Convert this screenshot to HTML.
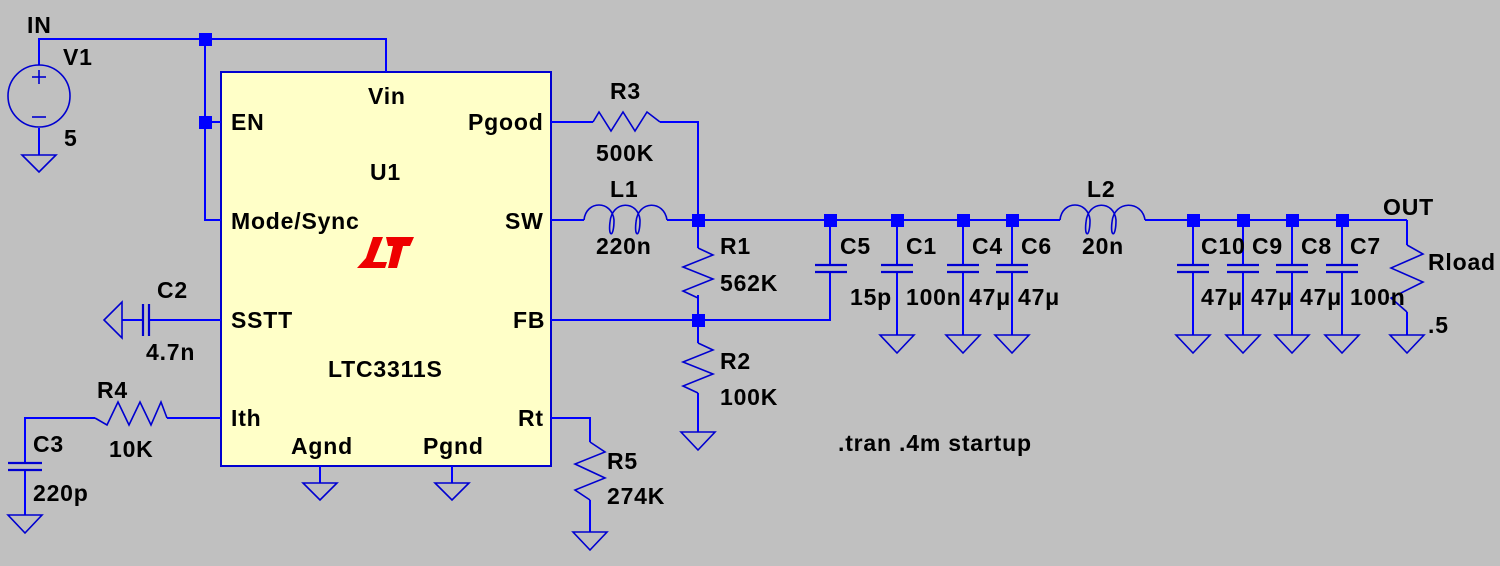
<!DOCTYPE html>
<html><head><meta charset="utf-8"><style>
html,body{margin:0;padding:0;background:#c0c0c0;}
svg{display:block}
text{font-family:"Liberation Sans",sans-serif;font-weight:bold;font-size:23px;letter-spacing:0.8px;fill:#000}
</style></head><body>
<svg width="1500" height="566" viewBox="0 0 1500 566" xmlns="http://www.w3.org/2000/svg">
<rect width="1500" height="566" fill="#c0c0c0"/>
<rect x="221" y="72" width="330" height="394" fill="#ffffc8" stroke="#0000d0" stroke-width="2"/>
<g fill="none" stroke="#0000ff" stroke-width="2">
<polyline points="39,65 39,39 386,39 386,72"/>
<polyline points="205,39 205,220 221,220"/>
<line x1="205" y1="122" x2="221" y2="122"/>
<line x1="39" y1="128" x2="39" y2="155"/>
<polyline points="551,122 593,122"/>
<polyline points="660,122 698,122 698,248"/>
<line x1="551" y1="220" x2="584" y2="220"/>
<line x1="667" y1="220" x2="1060" y2="220"/>
<line x1="1145" y1="220" x2="1407" y2="220"/>
<polyline points="1407,220 1407,245"/>
<line x1="1407" y1="312" x2="1407" y2="335"/>
<line x1="698" y1="295" x2="698" y2="343"/>
<line x1="698" y1="393" x2="698" y2="432"/>
<polyline points="551,320 830,320 830,272"/>
<line x1="830" y1="220" x2="830" y2="265"/>
<line x1="897" y1="220" x2="897" y2="265"/><line x1="897" y1="271" x2="897" y2="335"/>
<line x1="963" y1="220" x2="963" y2="265"/><line x1="963" y1="271" x2="963" y2="335"/>
<line x1="1012" y1="220" x2="1012" y2="265"/><line x1="1012" y1="271" x2="1012" y2="335"/>
<line x1="1193" y1="220" x2="1193" y2="265"/><line x1="1193" y1="271" x2="1193" y2="335"/>
<line x1="1243" y1="220" x2="1243" y2="265"/><line x1="1243" y1="271" x2="1243" y2="335"/>
<line x1="1292" y1="220" x2="1292" y2="265"/><line x1="1292" y1="271" x2="1292" y2="335"/>
<line x1="1342" y1="220" x2="1342" y2="265"/><line x1="1342" y1="271" x2="1342" y2="335"/>
<line x1="221" y1="320" x2="149" y2="320"/>
<line x1="143" y1="320" x2="122" y2="320"/>
<line x1="221" y1="418" x2="167" y2="418"/>
<polyline points="95,418 25,418 25,463"/>
<line x1="25" y1="470" x2="25" y2="515"/>
<polyline points="551,418 590,418 590,442"/>
<line x1="590" y1="500" x2="590" y2="532"/>
<line x1="320" y1="466" x2="320" y2="483"/>
<line x1="452" y1="466" x2="452" y2="483"/>
</g>
<g fill="none" stroke="#0000d0" stroke-width="1.6">
<circle cx="39" cy="96" r="31"/>
<line x1="32" y1="77" x2="46" y2="77"/><line x1="39" y1="70" x2="39" y2="84"/>
<line x1="32" y1="117" x2="46" y2="117"/>
<polygon points="22,155 56,155 39,172"/>
<polygon points="880,335 914,335 897,353"/>
<polygon points="946,335 980,335 963,353"/>
<polygon points="995,335 1029,335 1012,353"/>
<polygon points="1176,335 1210,335 1193,353"/>
<polygon points="1226,335 1260,335 1243,353"/>
<polygon points="1275,335 1309,335 1292,353"/>
<polygon points="1325,335 1359,335 1342,353"/>
<polygon points="1390,335 1424,335 1407,353"/>
<polygon points="681,432 715,432 698,450"/>
<polygon points="8,515 42,515 25,533"/>
<polygon points="573,532 607,532 590,550"/>
<polygon points="303,483 337,483 320,500"/>
<polygon points="435,483 469,483 452,500"/>
<polygon points="122,302 122,338 104,320"/>
<polyline points="593,122 599,112 611,131 623,112 635,131 647,112 660,122"/>
<polyline points="698,248 713,255 683,267 713,279 683,291 698,298"/>
<polyline points="698,343 713,350 683,362 713,374 683,386 698,393"/>
<polyline points="1407,245 1423,254 1391,268 1423,282 1391,298 1407,312"/>
<polyline points="167,418 161,402 151,425 140,402 129,425 118,402 107,425 95,418"/>
<polyline points="590,442 605,452 575,464 605,478 575,490 590,500"/>
<path d="M584,220 C586,200 612,200 614,220 C614,238 608,238 610,222 C612,200 638,200 640,220 C640,238 634,238 636,222 C638,200 664,200 667,220"/>
<path d="M1060,220 C1062,200 1088,200 1090,220 C1090,238 1084,238 1086,222 C1088,200 1114,200 1116,220 C1116,238 1110,238 1112,222 C1114,200 1142,200 1145,220"/>
</g>
<g fill="none" stroke="#0000d0" stroke-width="2.2">
<line x1="815" y1="265" x2="847" y2="265"/><line x1="815" y1="272" x2="847" y2="272"/>
<line x1="881" y1="265" x2="913" y2="265"/><line x1="881" y1="272" x2="913" y2="272"/>
<line x1="947" y1="265" x2="979" y2="265"/><line x1="947" y1="272" x2="979" y2="272"/>
<line x1="996" y1="265" x2="1028" y2="265"/><line x1="996" y1="272" x2="1028" y2="272"/>
<line x1="1177" y1="265" x2="1209" y2="265"/><line x1="1177" y1="272" x2="1209" y2="272"/>
<line x1="1227" y1="265" x2="1259" y2="265"/><line x1="1227" y1="272" x2="1259" y2="272"/>
<line x1="1276" y1="265" x2="1308" y2="265"/><line x1="1276" y1="272" x2="1308" y2="272"/>
<line x1="1326" y1="265" x2="1358" y2="265"/><line x1="1326" y1="272" x2="1358" y2="272"/>
<line x1="8" y1="463" x2="42" y2="463"/><line x1="8" y1="470" x2="42" y2="470"/>
<line x1="143" y1="304" x2="143" y2="336"/><line x1="149" y1="304" x2="149" y2="336"/>
</g>
<g fill="#0000ff">
<rect x="199" y="33" width="13" height="13"/><rect x="199" y="116" width="13" height="13"/>
<rect x="692" y="214" width="13" height="13"/><rect x="692" y="314" width="13" height="13"/>
<rect x="824" y="214" width="13" height="13"/><rect x="891" y="214" width="13" height="13"/>
<rect x="957" y="214" width="13" height="13"/><rect x="1006" y="214" width="13" height="13"/>
<rect x="1187" y="214" width="13" height="13"/><rect x="1237" y="214" width="13" height="13"/>
<rect x="1286" y="214" width="13" height="13"/><rect x="1336" y="214" width="13" height="13"/>
</g>
<polygon fill="#ee0000" points="373,237 383,237 373,262 387,262 385,268 357,268 366,258"/>
<polygon fill="#ee0000" points="386,237 414,237 410,246 403,246 397,268 388,268 393,246 388,246"/>
<text x="27" y="33">IN</text><text x="63" y="65">V1</text><text x="64" y="146">5</text>
<text x="368" y="104">Vin</text><text x="231" y="130">EN</text><text x="468" y="130">Pgood</text>
<text x="370" y="180">U1</text><text x="231" y="229">Mode/Sync</text><text x="505" y="229">SW</text>
<text x="231" y="328">SSTT</text><text x="513" y="328">FB</text><text x="328" y="377">LTC3311S</text>
<text x="231" y="426">Ith</text><text x="518" y="426">Rt</text><text x="291" y="454">Agnd</text><text x="423" y="454">Pgnd</text>
<text x="610" y="99">R3</text><text x="596" y="161">500K</text>
<text x="610" y="197">L1</text><text x="596" y="254">220n</text>
<text x="720" y="254">R1</text><text x="720" y="291">562K</text>
<text x="720" y="369">R2</text><text x="720" y="405">100K</text>
<text x="840" y="254">C5</text><text x="850" y="305">15p</text>
<text x="906" y="254">C1</text><text x="906" y="305">100n</text>
<text x="972" y="254">C4</text><text x="969" y="305">47μ</text>
<text x="1021" y="254">C6</text><text x="1018" y="305">47μ</text>
<text x="1087" y="197">L2</text><text x="1082" y="254">20n</text>
<text x="1201" y="254">C10</text><text x="1252" y="254">C9</text><text x="1301" y="254">C8</text><text x="1350" y="254">C7</text>
<text x="1201" y="305">47μ</text><text x="1251" y="305">47μ</text><text x="1300" y="305">47μ</text><text x="1350" y="305">100n</text>
<text x="1383" y="215">OUT</text><text x="1428" y="270">Rload</text><text x="1428" y="333">.5</text>
<text x="157" y="298">C2</text><text x="146" y="360">4.7n</text>
<text x="97" y="398">R4</text><text x="109" y="457">10K</text>
<text x="33" y="452">C3</text><text x="33" y="501">220p</text>
<text x="607" y="469">R5</text><text x="607" y="504">274K</text>
<text x="838" y="451">.tran .4m startup</text>
</svg>
</body></html>
